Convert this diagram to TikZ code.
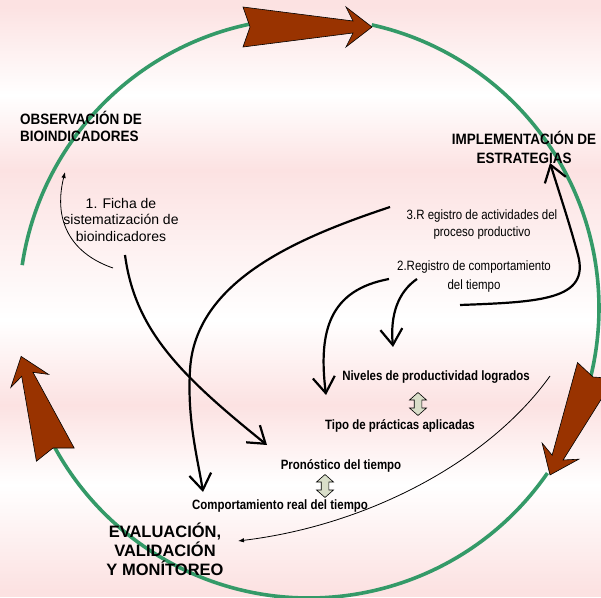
\documentclass[tikz,border=0pt]{standalone}
\usepackage{fontspec}
\setmainfont{Liberation Sans}
\newfontfamily\headfont[FakeStretch=0.9]{Liberation Sans}
\newfontfamily\narrowfont[FakeStretch=0.85]{Liberation Sans}
\usetikzlibrary{arrows.meta}

\definecolor{bgpink}{RGB}{252,226,226}
\definecolor{cyclegreen}{RGB}{52,154,104}
\definecolor{arrowbrown}{RGB}{153,51,0}
\definecolor{swapfill}{RGB}{217,222,201}

\tikzset{
  cycleline/.style={draw=cyclegreen, line width=3.6pt},
  cyclehead/.style={fill=arrowbrown, draw=black, line width=0.6pt, line join=miter},
  flow/.style={line width=2.2pt, -{Straight Barb[length=16pt,width=22pt]}},
  thinflow/.style={line width=0.8pt, -{Latex[length=6pt,width=4.5pt]}},
  swapstyle/.style={fill=swapfill, draw=black, line width=0.6pt, line join=miter},
  heading/.style={font=\fontsize{15}{17}\selectfont\headfont\bfseries, inner sep=0pt},
  stage/.style={font=\fontsize{16.5}{19}\selectfont\bfseries, align=center, inner sep=0pt},
  note/.style={font=\fontsize{14}{16.5}\selectfont, align=center, inner sep=0pt},
  record/.style={font=\fontsize{13.5}{17}\selectfont\narrowfont, align=center, inner sep=0pt},
  result/.style={font=\fontsize{13.5}{16}\selectfont\narrowfont\bfseries, inner sep=0pt},
}

% large notched arrow of the cycle: notch point, direction, length
\newcommand\cyclearrow[3]{%
  \begin{scope}[shift={#1},rotate=#2]
    \filldraw[cyclehead] (0,0) -- (-7,20) -- ({#3-19},6) -- ({#3-26},20) -- (#3,0)
      -- ({#3-26},-20) -- ({#3-19},-6) -- (-7,-20) -- cycle;
  \end{scope}}

% small up-down arrow between two results
\newcommand\swaparrow[1]{%
  \begin{scope}[shift={#1}]
    \filldraw[swapstyle] (0,11.5) -- (8.5,4) -- (3.8,4) -- (3.8,-4) -- (8.5,-4) -- (0,-11.5)
      -- (-8.5,-4) -- (-3.8,-4) -- (-3.8,4) -- (-8.5,4) -- cycle;
  \end{scope}}

\begin{document}
\begin{tikzpicture}[x=1pt,y=1pt]
\useasboundingbox (0,0) rectangle (601,597);
\clip (0,0) rectangle (601,597);

% banded background
\fill[bgpink] (0,590) rectangle (601,597);
\shade[top color=bgpink, bottom color=white] (0,502) rectangle (601,590.1);
\shade[top color=white, bottom color=bgpink] (0,427) rectangle (601,502.1);
\shade[top color=bgpink, bottom color=white] (0,277) rectangle (601,427.1);
\shade[top color=white, bottom color=bgpink] (0,192) rectangle (601,277.1);
\shade[top color=bgpink, bottom color=white] (0,112) rectangle (601,192.1);
\shade[top color=white, bottom color=bgpink] (0,7) rectangle (601,112.1);
\fill[bgpink] (0,0) rectangle (601,7.1);

% the cycle
\coordinate (C) at (309,289);
\draw[cycleline] (C) ++(171.5:290) arc[start angle=171.5, end angle=102, radius=290];
\draw[cycleline] (C) ++(77.5:290) arc[start angle=77.5, end angle=-13.7, radius=290];
\draw[cycleline] (C) ++(-34.7:290) arc[start angle=-34.7, end angle=-151.3, radius=290];

\cyclearrow{(250,570)}{0}{122}
\cyclearrow{(593,220)}{246.3}{107}
\cyclearrow{(53,149)}{109.2}{97}

% stages
\node[heading, align=left, anchor=west] (obs) at (20,470.5) {OBSERVACIÓN DE\\BIOINDICADORES};
\node[heading, align=center, font=\fontsize{15}{19}\selectfont\headfont\bfseries] (impl) at (524,449.5) {IMPLEMENTACIÓN DE\\ESTRATEGIAS};
\node[stage] (eval) at (165,48) {EVALUACIÓN,\\VALIDACIÓN\\Y MONÍTOREO};

% records
\node[note] (ficha) at (121,377.5) {1. Ficha de\\sistematización de\\bioindicadores};
\node[record] (reg3) at (482,372) {3.R egistro de actividades del\\proceso productivo};
\node[record, font=\fontsize{13.5}{19}\selectfont\narrowfont] (reg2) at (474,320.5) {2.Registro de comportamiento\\del tiempo};

% results
\node[result] (niv) at (436,220) {Niveles de productividad logrados};
\node[result] (tipo) at (400,171) {Tipo de prácticas aplicadas};
\node[result] (pron) at (341,131) {Pronóstico del tiempo};
\node[result] (real) at (280,91) {Comportamiento real del tiempo};

\swaparrow{(418,193)}
\swaparrow{(325,111)}

% connector ends
\coordinate (fichaout) at (113,329);
\coordinate (obsin) at (65,425);
\coordinate (fichadown) at (125,342);
\coordinate (pronin) at (267,152);
\coordinate (reg3out) at (390,390);
\coordinate (realin) at (203,105);
\coordinate (reg2outa) at (389,318);
\coordinate (nivina) at (326,202);
\coordinate (reg2outb) at (417,318);
\coordinate (nivinb) at (393,250);
\coordinate (loopstart) at (460,292);
\coordinate (implin) at (550,434);
\coordinate (tipoout) at (550,221);
\coordinate (evalin) at (238,56);

% connectors
\draw[thinflow] (fichaout) .. controls (75,342) and (52,372) .. (obsin);
\draw[flow] (fichadown) .. controls (135,267) and (180,222) .. (pronin);
\draw[flow] (reg3out) .. controls (300,360) and (195,317) .. (190,227)
  .. controls (187,177) and (198,137) .. (realin);
\draw[flow] (reg2outa) .. controls (330,307) and (318,267) .. (nivina);
\draw[flow] (reg2outb) .. controls (398,305) and (390,282) .. (nivinb);
\draw[flow] (loopstart) .. controls (540,295) and (590,297) .. (578,342)
  .. controls (570,372) and (560,402) .. (implin);
\draw[thinflow] (tipoout) .. controls (490,137) and (370,72) .. (evalin);
\end{tikzpicture}
\end{document}
